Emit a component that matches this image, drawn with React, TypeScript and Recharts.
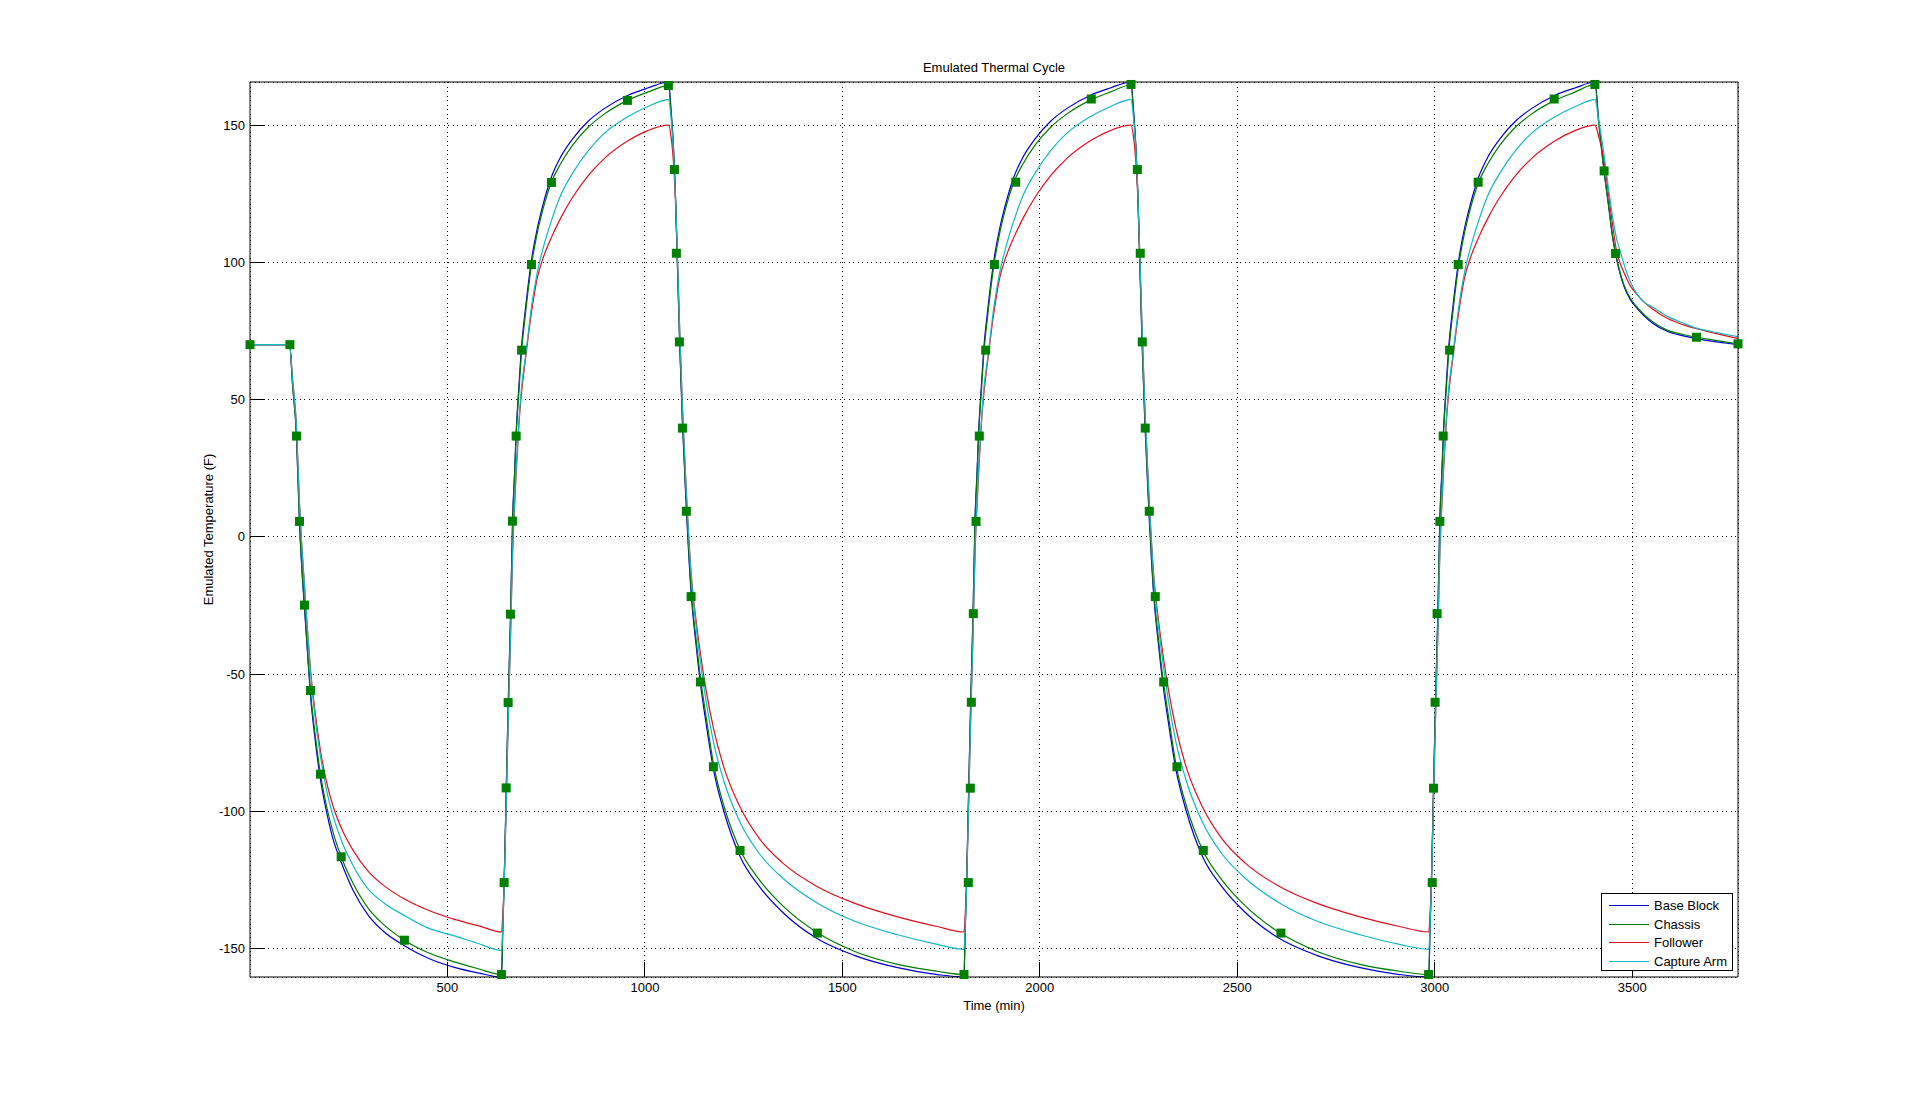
import { ComposedChart, Line, Scatter, XAxis, YAxis, CartesianGrid, Legend } from 'recharts'

const font = '"Liberation Sans", Arial, Helvetica, sans-serif'

// time axis (min): hold, cool, heat, cool, heat, cool, heat, final cool
const time = [
  0, 50,
  100, 108, 117.7, 125.3, 131, 138, 145, 153, 165, 178.5, 195, 210, 231, 260, 300, 340, 391, 450, 520, 580, 637,
  640, 643.5, 649, 654, 660, 665, 670, 674, 681, 688, 697, 713, 727, 742, 763, 787, 817, 857, 897, 956, 1007, 1060,
  1066, 1072, 1077, 1082, 1088, 1095, 1105, 1117, 1130, 1141, 1155, 1174, 1200, 1241, 1290, 1350, 1437, 1530, 1640, 1740, 1808,
  1811, 1814.5, 1820, 1825, 1831, 1836, 1841, 1845, 1852, 1859, 1868, 1884, 1898, 1913, 1934, 1958, 1988, 2028, 2068, 2127, 2178, 2231,
  2237, 2243, 2248, 2253, 2259, 2266, 2276, 2288, 2301, 2312, 2326, 2345, 2371, 2412, 2461, 2521, 2608, 2701, 2811, 2911, 2985,
  2988, 2991.5, 2997, 3002, 3008, 3013, 3018, 3022, 3029, 3036, 3045, 3061, 3075, 3090, 3111, 3135, 3165, 3205, 3245, 3304, 3355, 3406,
  3415, 3428, 3440, 3450, 3460, 3470, 3480, 3495, 3511, 3530, 3550, 3590, 3630, 3663, 3700, 3735, 3768,
]

const baseBlock = [
  70, 70,
  70, 55, 36.5, 5, -11, -26, -41, -57.5, -74, -88.5, -101, -110, -118.6, -128.5, -138, -144, -149, -153.5, -157, -159, -160.4,
  -144, -126.5, -91.5, -60, -27.5, 6.5, 23.5, 38, 55, 70, 82.5, 101, 112, 121, 131, 138.5, 145, 151.5, 156, 160.8, 163.5, 165.7,
  156, 143, 126, 101, 70.5, 41.5, 10, -20.5, -40, -54, -68, -85, -100, -116.5, -127.5, -137, -146.5, -152.5, -157, -159.5, -160.4,
  -144, -126.5, -91.5, -60, -27.5, 6.5, 23.5, 38, 55, 70, 82.5, 101, 112, 121, 131, 138.5, 145, 151.5, 156, 160.8, 163.5, 165.7,
  156, 143, 126, 101, 70.5, 41.5, 10, -20.5, -40, -54, -68, -85, -100, -116.5, -127.5, -137, -146.5, -152.5, -157, -159.5, -160.4,
  -144, -126.5, -91.5, -60, -27.5, 6.5, 23.5, 38, 55, 70, 82.5, 101, 112, 121, 131, 138.5, 145, 151.5, 156, 160.8, 163.5, 165.7,
  152, 134.5, 121, 109.5, 101.5, 95.5, 91, 86.5, 83.5, 80.5, 78, 74.8, 73.2, 72.2, 71.3, 70.6, 70,
]

const chassis = [
  70, 70,
  70, 55, 36.7, 5.6, -10, -24.9, -40, -56, -72, -86.5, -99, -107.5, -116.6, -126, -135.5, -141.5, -147, -151.5, -155, -157.5, -159.5,
  -143, -126, -91.5, -60.4, -28.2, 5.7, 22, 36.7, 53, 68, 80.5, 99.2, 110.4, 119.4, 129.1, 136, 142.7, 149.3, 154, 159, 162, 164.4,
  155, 142.5, 126, 101, 71, 42.5, 11.5, -19, -38, -51.8, -65.5, -83, -98, -114, -125, -134.6, -144.3, -151, -155.8, -158.3, -159.5,
  -143, -126, -91.5, -60.4, -28.2, 5.7, 22, 36.7, 53, 68, 80.5, 99.2, 110.4, 119.4, 129.1, 136, 142.7, 149.3, 154, 159, 162, 164.6,
  155, 142.5, 126, 101, 71, 42.5, 11.5, -19, -38, -51.8, -65.5, -83, -98, -114, -125, -134.6, -144.3, -151, -155.8, -158.3, -159.5,
  -143, -126, -91.5, -60.4, -28.2, 5.7, 22, 36.7, 53, 68, 80.5, 99.2, 110.4, 119.4, 129.1, 136, 142.7, 149.3, 154, 159, 162, 164.8,
  151, 134, 121, 110, 102, 96, 91.5, 87, 83.9, 81, 78.5, 75.2, 73.7, 72.7, 71.8, 71, 70.3,
]

const follower = [
  70, 70,
  70, 57, 40, 12, -3, -18, -33, -48, -64, -78, -90, -98, -106, -114, -122, -127.2, -132, -136, -139.5, -141.8, -144,
  -138, -127, -96, -66, -35, -6, 11, 23, 41, 53, 64, 82, 94, 101.5, 109, 116.2, 123.7, 131.7, 137.8, 144.2, 148, 150,
  146, 137, 124, 103, 76, 47, 16, -13, -31, -43, -56, -70, -84, -98.5, -110, -119, -127.5, -133.5, -138.5, -142, -144,
  -138, -127, -96, -66, -35, -6, 11, 23, 41, 53, 64, 82, 94, 101.5, 109, 116.2, 123.7, 131.7, 137.8, 144.2, 148, 150,
  146, 137, 124, 103, 76, 47, 16, -13, -31, -43, -56, -70, -84, -98.5, -110, -119, -127.5, -133.5, -138.5, -142, -144,
  -138, -127, -96, -66, -35, -6, 11, 23, 41, 53, 64, 82, 94, 101.5, 109, 116.2, 123.7, 131.7, 137.8, 144.2, 148, 150,
  146, 138, 125, 114, 104.6, 99.5, 96, 91.5, 88.5, 85.5, 83.2, 79.5, 77.2, 75.8, 74.5, 73.3, 72.3,
]

const captureArm = [
  70, 70,
  70, 57, 40, 12, -3, -18, -33, -49, -66, -80, -93, -101.5, -110.5, -119.5, -128.5, -133.5, -138, -142.5, -145.5, -148.3, -150.7,
  -143, -128, -96, -66, -35, -5, 13, 25, 42, 55, 65, 84, 96, 105, 115, 124.5, 132.5, 140.8, 147, 153, 156.7, 159.3,
  153, 141, 126, 104, 76, 47, 16, -14, -33, -46, -60, -75, -89, -104, -115.5, -124.5, -133.5, -140, -145, -148.5, -150.3,
  -143, -128, -96, -66, -35, -5, 13, 25, 42, 55, 65, 84, 96, 105, 115, 124.5, 132.5, 140.8, 147, 153, 156.7, 159.3,
  153, 141, 126, 104, 76, 47, 16, -14, -33, -46, -60, -75, -89, -104, -115.5, -124.5, -133.5, -140, -145, -148.5, -150.3,
  -143, -128, -96, -66, -35, -5, 13, 25, 42, 55, 65, 84, 96, 105, 115, 124.5, 132.5, 140.8, 147, 153, 156.7, 159.3,
  152, 140, 127, 117, 109, 104, 99, 93, 88.8, 85.5, 83.8, 80.3, 77.8, 76, 74.8, 73.8, 72.9,
]

// square markers sitting on the chassis trace
const markerTime = [
  0, 101, 117.7, 125.3, 138, 153.2, 178.5, 230.9, 391, 636.7,
  643.5, 648.6, 653.7, 659.5, 664.6, 674, 687.8, 712.7, 763.3, 955.7, 1059.5,
  1074.7, 1079.7, 1087.3, 1095, 1105, 1117, 1140.5, 1173.4, 1241, 1436.7, 1808,
  1819, 1824, 1826.6, 1831.6, 1838.5, 1846.8, 1863, 1885, 1939, 2130.4, 2231,
  2247, 2254.4, 2259.5, 2267, 2277.2, 2292.4, 2313.7, 2347.3, 2414, 2610.6, 2984.6,
  2993.7, 2997, 3001, 3006, 3013, 3021.5, 3037.7, 3059.5, 3110, 3302.5, 3405.6,
  3429, 3458, 3663, 3768,
]
const markerTemp = [
  70, 70, 36.7, 5.6, -24.9, -56, -86.5, -116.6, -147, -159.5,
  -126, -91.5, -60.4, -28.2, 5.7, 36.7, 68, 99.2, 129.1, 159, 164.4,
  133.8, 103.3, 71, 39.6, 9.3, -21.8, -52.9, -83.8, -114.3, -144.4, -159.5,
  -126, -91.6, -60.3, -28, 5.6, 36.7, 68, 99.2, 129.2, 159.5, 164.8,
  133.8, 103.3, 71, 39.6, 9.3, -21.8, -52.9, -83.8, -114.3, -144.4, -159.5,
  -126, -91.6, -60.3, -28, 5.6, 36.7, 68, 99.2, 129.2, 159.5, 164.8,
  133.3, 103.2, 72.7, 70.3,
]

const seriesKeys = ['baseBlock', 'chassis', 'follower', 'captureArm']
const seriesNames = ['Base Block', 'Chassis', 'Follower', 'Capture Arm']
const seriesColors = ['#0000c8', '#007a00', '#dd1020', '#10b8c0']

const xTicks = [500, 1000, 1500, 2000, 2500, 3000, 3500]
const yTicks = [-150, -100, -50, 0, 50, 100, 150]
const tickLen = 15

// matlab style ticks: drawn inwards, labels outside
const BottomTick = ({ x, y, payload }: any) => (
  <g>
    <line x1={x} x2={x} y1={y} y2={y - tickLen} stroke="#000" shapeRendering="crispEdges" />
    <text x={x} y={y + 15} textAnchor="middle" fill="#000" fontSize={13} fontFamily={font}>
      {payload.value}
    </text>
  </g>
)
const TopTick = ({ x, y }: any) => (
  <line x1={x} x2={x} y1={y} y2={y + tickLen} stroke="#000" shapeRendering="crispEdges" />
)
const LeftTick = ({ x, y, payload }: any) => (
  <g>
    <line x1={x} x2={x + tickLen} y1={y} y2={y} stroke="#000" shapeRendering="crispEdges" />
    <text x={x - 5} y={y + 4.6} textAnchor="end" fill="#000" fontSize={13} fontFamily={font}>
      {payload.value}
    </text>
  </g>
)
const RightTick = ({ x, y }: any) => (
  <line x1={x} x2={x - tickLen} y1={y} y2={y} stroke="#000" shapeRendering="crispEdges" />
)

const Square = (props: any) => (
  <rect x={props.cx - 4.5} y={props.cy - 4.5} width={9} height={9} fill="#008000" />
)

const LegendBox = () => (
  <div
    style={{
      width: 132,
      height: 78,
      boxSizing: 'border-box',
      border: '1px solid #000',
      background: '#fff',
      paddingTop: 2,
      fontFamily: font,
    }}
  >
    {seriesNames.map((name, i) => (
      <div key={name} style={{ height: 18.7, display: 'flex', alignItems: 'center' }}>
        <div style={{ marginLeft: 7, width: 40, borderTop: `1px solid ${seriesColors[i]}` }} />
        <span style={{ marginLeft: 5, fontSize: 13, lineHeight: '13px', color: '#000' }}>{name}</span>
      </div>
    ))}
  </div>
)

export default function App() {
  const data = time.map((t, i) => ({
    t,
    baseBlock: baseBlock[i],
    chassis: chassis[i],
    follower: follower[i],
    captureArm: captureArm[i],
  }))
  const markers = markerTime.map((t, i) => ({ t, temp: markerTemp[i] }))

  return (
    <div style={{ position: 'absolute', left: 0, top: 0, width: 1920, height: 1098, background: '#fff', fontFamily: font }}>
      <ComposedChart width={1920} height={1098} data={data} margin={{ top: 81, right: 181, bottom: 91, left: 190 }}>
        <CartesianGrid stroke="#000" strokeDasharray="1 3.5" shapeRendering="crispEdges" />
        <XAxis
          dataKey="t"
          type="number"
          domain={[0, 3768]}
          ticks={xTicks}
          interval={0}
          height={30}
          stroke="#000"
          tickLine={false}
          tickSize={0}
          tickMargin={0}
          tick={BottomTick}
          label={{ value: 'Time (min)', position: 'bottom', offset: -6, fill: '#000', fontSize: 13, fontFamily: font }}
        />
        <XAxis
          xAxisId="top"
          orientation="top"
          type="number"
          domain={[0, 3768]}
          ticks={xTicks}
          interval={0}
          height={1}
          stroke="#000"
          tickLine={false}
          tickSize={0}
          tickMargin={0}
          tick={TopTick}
          label={{ value: 'Emulated Thermal Cycle', position: 'top', offset: 9, fill: '#000', fontSize: 13, fontFamily: font }}
        />
        <YAxis
          type="number"
          domain={[-160.4, 165.7]}
          ticks={yTicks}
          interval={0}
          width={60}
          stroke="#000"
          tickLine={false}
          tickSize={0}
          tickMargin={0}
          tick={LeftTick}
          label={{
            value: 'Emulated Temperature (F)',
            angle: -90,
            position: 'insideLeft',
            offset: 18,
            fill: '#000',
            fontSize: 13,
            fontFamily: font,
            style: { textAnchor: 'middle' },
          }}
        />
        <YAxis
          yAxisId="right"
          orientation="right"
          type="number"
          domain={[-160.4, 165.7]}
          ticks={yTicks}
          interval={0}
          width={1}
          stroke="#000"
          tickLine={false}
          tickSize={0}
          tickMargin={0}
          tick={RightTick}
        />
        <Legend
          layout="vertical"
          align="center"
          verticalAlign="middle"
          wrapperStyle={{ left: 1601, top: 893, width: 132, height: 78 }}
          content={() => <LegendBox />}
        />
        {seriesKeys.map((key, i) => (
          <Line
            key={key}
            type="monotone"
            dataKey={key}
            name={seriesNames[i]}
            stroke={seriesColors[i]}
            strokeWidth={1.2}
            dot={false}
            activeDot={false}
            isAnimationActive={false}
          />
        ))}
        <Scatter
          data={markers}
          dataKey="temp"
          fill="#008000"
          shape={Square}
          legendType="none"
          isAnimationActive={false}
        />
      </ComposedChart>
    </div>
  )
}
